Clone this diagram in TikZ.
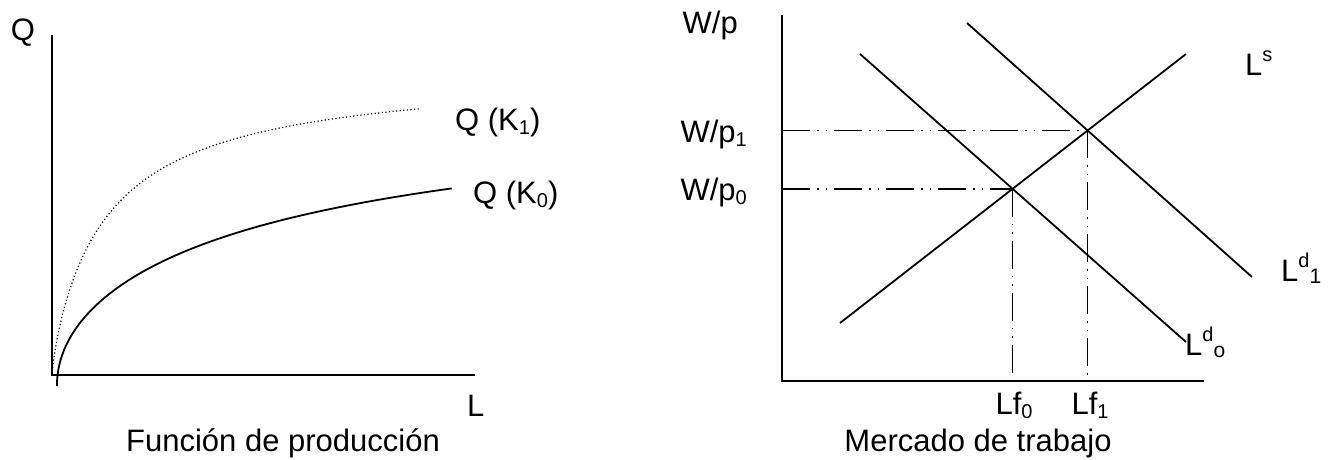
\documentclass[tikz,border=0pt]{standalone}
\usepackage{fontspec}
\setmainfont{Liberation Sans}
\newcommand\mysup[1]{\raisebox{14pt}{\fontsize{20}{20}\selectfont #1}}
\newcommand\mysub[1]{\raisebox{-4pt}{\fontsize{20}{20}\selectfont #1}}
\newcommand\mysubb[1]{\raisebox{-2pt}{\fontsize{21}{21}\selectfont #1}}
\begin{document}
\begin{tikzpicture}[x=1pt,y=-1pt,
  every node/.style={inner sep=0pt, font=\fontsize{31}{36}\selectfont},
  axis/.style={line width=2pt},
  curve/.style={line width=1.8pt},
  dotcurve/.style={line width=1.2pt, dash pattern=on 1.2pt off 2.4pt},
  guide/.style={line width=1.5pt, dash pattern=on 28pt off 7pt on 1.5pt off 7pt on 1.5pt off 7pt},
  lbl/.style={anchor=base west},
  lblc/.style={anchor=base},
  lble/.style={anchor=base east}]
\useasboundingbox (0,0) rectangle (1335,460);
% ---------- left: production function ----------
\coordinate (lo) at (52,375);
\coordinate (ltop) at (52,35);
\coordinate (lend) at (475,375);
\draw[axis] (ltop) -- (lo) -- (lend);
\draw[dotcurve] (lo) -- plot[domain=0.05:19.18, samples=160] ({52+\x*\x},{375-306*(\x*\x/(\x*\x+70))^0.8});
\draw[curve] (57,386) -- plot[domain=0:19.87, samples=160] ({57+\x*\x},{385-296*\x/sqrt(\x*\x+500)});
\node (Q) at (23,33) {Q};
\node[lbl] (L) at (467,416) {L};
\node[lbl] (QK1) at (455,130) {Q (K\mysub{1})};
\node[lbl] (QK0) at (473,203) {Q (K\mysub{0})};
\node[lblc] (cap1) at (283,451) {Función de producción};
% ---------- right: labour market ----------
\coordinate (ro) at (782,381);
\coordinate (rtop) at (782,15);
\coordinate (rend) at (1204,381);
\draw[axis] (rtop) -- (ro) -- (rend);
\coordinate (s0) at (840,323);
\coordinate (s1) at (1186,54);
\coordinate (d0a) at (860,54);
\coordinate (d0b) at (1186,342);
\coordinate (d1a) at (967,23);
\coordinate (d1b) at (1252,277);
\draw[curve] (s0) -- (s1);
\draw[curve] (d0a) -- (d0b);
\draw[curve] (d1a) -- (d1b);
\coordinate (e0) at (intersection of s0--s1 and d0a--d0b);
\coordinate (e1) at (intersection of s0--s1 and d1a--d1b);
\draw[guide] (e0 -| ro) -- (e0);
\draw[guide] (e0) -- (e0 |- ro);
\draw[guide] (e1 -| ro) -- (e1);
\draw[guide] (e1) -- (e1 |- ro);
\node[lble] (Wp) at (738,34) {W/p};
\node[lble] (Wp1) at (747,142) {W/p\mysub{1}};
\node[lble] (Wp0) at (747,200) {W/p\mysub{0}};
\node[lblc] (Lf0) at (1014,414) {Lf\mysub{0}};
\node[lblc] (Lf1) at (1090,414) {Lf\mysub{1}};
\node[lbl] (Ls) at (1245,75) {L\mysup{s}};
\node[lbl] (Ld1) at (1281,281) {L\mysup{d}\mysubb{1}};
\node[lbl] (Ld0) at (1185,355) {L\mysup{d}\mysubb{o}};
\node[lblc] (cap2) at (978,451) {Mercado de trabajo};
\end{tikzpicture}
\end{document}
